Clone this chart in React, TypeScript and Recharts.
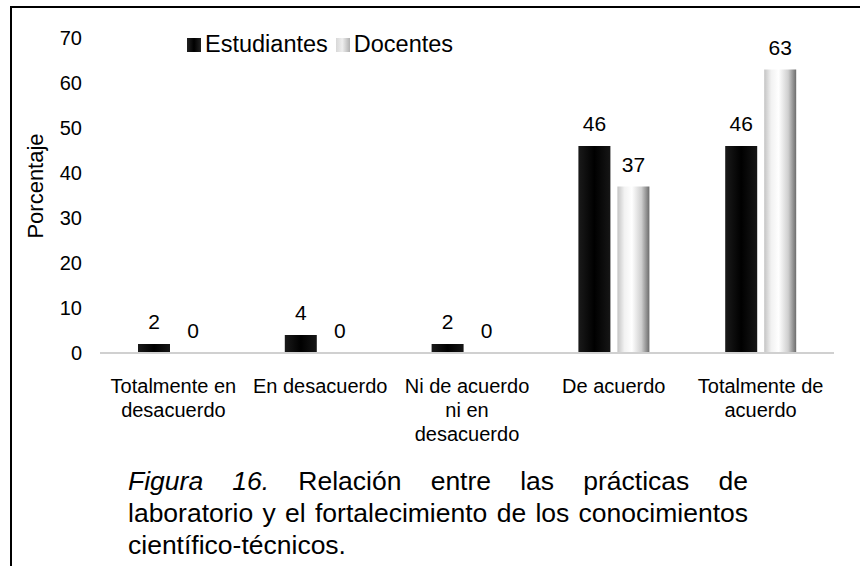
import { BarChart, Bar, XAxis, YAxis, Legend, LabelList } from 'recharts';

// Categories (each entry is the wrapped tick label, one string per line)
const CATEGORIES: string[][] = [
  ['Totalmente en', 'desacuerdo'],
  ['En desacuerdo'],
  ['Ni de acuerdo', 'ni en', 'desacuerdo'],
  ['De acuerdo'],
  ['Totalmente de', 'acuerdo'],
];
const ESTUDIANTES = [2, 4, 2, 46, 46];
const DOCENTES = [0, 0, 0, 37, 63];
const Y_TICKS = [0, 10, 20, 30, 40, 50, 60, 70];

const CAPTION_LINES = [
  'Relación entre las prácticas de',
  'laboratorio y el fortalecimiento de los conocimientos',
  'científico-técnicos.',
];

const SERIES = [
  { key: 'estudiantes', name: 'Estudiantes', fill: 'url(#gradEst)', swatch: 'linear-gradient(90deg,#222,#000 50%,#222)' },
  { key: 'docentes', name: 'Docentes', fill: 'url(#gradDoc)', swatch: 'linear-gradient(90deg,#d8d8d8,#eee 45%,#b0b0b0)' },
];

const data = CATEGORIES.map((lines, i) => ({
  cat: lines.join(' '),
  lines,
  estudiantes: ESTUDIANTES[i],
  docentes: DOCENTES[i],
}));

const FONT = 'Arial, "Liberation Sans", Helvetica, sans-serif';

function CategoryTick({ x, y, payload }: any) {
  const row = data.find(d => d.cat === payload.value);
  const lines = row ? row.lines : [payload.value];
  return (
    <text x={x} y={y + 32} textAnchor="middle" fontSize={20} fill="#000" fontFamily={FONT}>
      {lines.map((l, i) => (
        <tspan key={i} x={x} dy={i === 0 ? 0 : 24}>{l}</tspan>
      ))}
    </text>
  );
}

function LegendContent() {
  return (
    <div style={{ display: 'flex', alignItems: 'center', fontFamily: FONT, fontSize: 23.5, lineHeight: '27px', color: '#000', whiteSpace: 'nowrap' }}>
      {SERIES.map(s => (
        <span key={s.key} style={{ display: 'flex', alignItems: 'center', marginRight: 8 }}>
          <span style={{ width: 14, height: 14, background: s.swatch, display: 'inline-block', marginRight: 4 }} />
          {s.name}
        </span>
      ))}
    </div>
  );
}

export default function App() {
  return (
    <div style={{ position: 'absolute', left: 0, top: 0, width: 860, height: 566, overflow: 'hidden', background: '#fff' }}>
      {/* figure frame: only left and top edges fall inside the crop */}
      <div style={{ position: 'absolute', left: 10, top: 6, width: 900, height: 600, borderLeft: '2px solid #000', borderTop: '2px solid #000' }} />
      <div style={{ position: 'absolute', left: 0, top: 0 }}>
        <BarChart
          width={860}
          height={460}
          data={data}
          margin={{ top: 38, right: 26, left: 40, bottom: 7 }}
          barSize={32}
          barGap={7}
        >
          <defs>
            <linearGradient id="gradEst" x1="0" y1="0" x2="1" y2="0">
              <stop offset="0%" stopColor="#1a1a1a" />
              <stop offset="50%" stopColor="#000" />
              <stop offset="100%" stopColor="#161616" />
            </linearGradient>
            <linearGradient id="gradDoc" x1="0" y1="0" x2="1" y2="0">
              <stop offset="0%" stopColor="#c4c4c4" />
              <stop offset="22%" stopColor="#f2f2f2" />
              <stop offset="45%" stopColor="#ffffff" />
              <stop offset="75%" stopColor="#cfcfcf" />
              <stop offset="100%" stopColor="#6c6c6c" />
            </linearGradient>
          </defs>
          <XAxis
            dataKey="cat"
            tick={<CategoryTick />}
            tickLine={false}
            axisLine={{ stroke: '#d0d0d0', strokeWidth: 2 }}
            height={100}
            interval={0}
          />
          <YAxis
            domain={[0, 70]}
            ticks={Y_TICKS}
            width={60}
            axisLine={false}
            tickLine={false}
            tickMargin={12}
            tick={{ fontSize: 20, fill: '#000', fontFamily: FONT }}
            label={({ viewBox }: any) => (
              <text
                x={viewBox.x - 5}
                y={186}
                transform={`rotate(-90, ${viewBox.x - 5}, 186)`}
                textAnchor="middle"
                dominantBaseline="central"
                fontSize={22}
                fontFamily={FONT}
                fill="#000"
              >
                Porcentaje
              </text>
            )}
          />
          {/* centered + middle so the legend reserves no space around the plot */}
          <Legend
            verticalAlign="middle"
            align="center"
            layout="horizontal"
            content={<LegendContent />}
            wrapperStyle={{ top: 31, left: 187, width: 'auto' }}
          />
          {SERIES.map(s => (
            <Bar key={s.key} dataKey={s.key} name={s.name} fill={s.fill} minPointSize={0.5} isAnimationActive={false}>
              <LabelList
                dataKey={s.key}
                position="top"
                offset={15}
                style={{ fontSize: 21, fill: '#000', fontFamily: FONT }}
              />
            </Bar>
          ))}
        </BarChart>
      </div>
      <div
        style={{
          position: 'absolute',
          left: 128,
          top: 465,
          width: 620,
          fontFamily: FONT,
          fontSize: 26.5,
          lineHeight: '32px',
          color: '#000',
        }}
      >
        {CAPTION_LINES.map((line, i) => (
          <div key={i} style={{ textAlign: i < 2 ? 'justify' : 'left', textAlignLast: i < 2 ? 'justify' : 'left' }}>
            {i === 0 && <i>Figura 16. </i>}
            {line}
          </div>
        ))}
      </div>
    </div>
  );
}
